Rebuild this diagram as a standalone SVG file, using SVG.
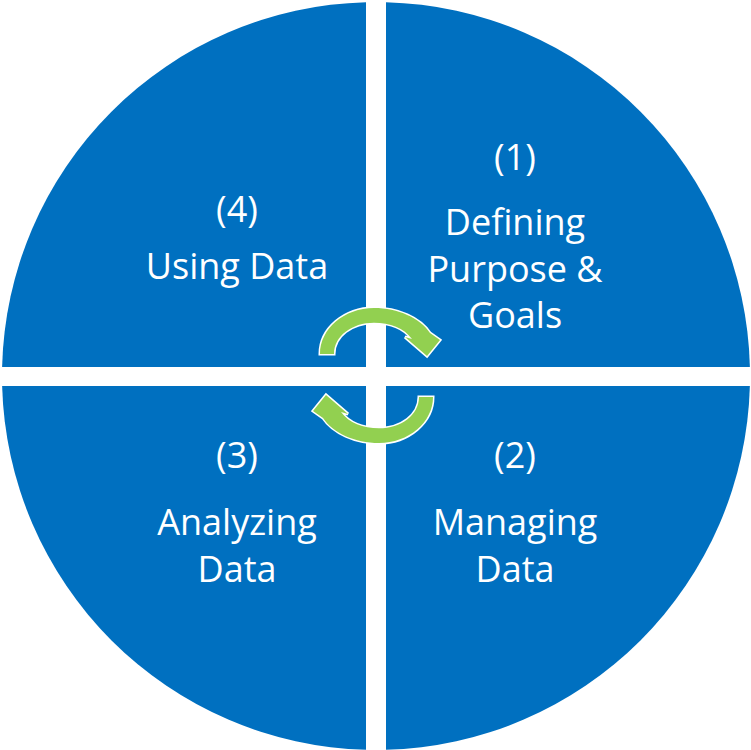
<svg xmlns="http://www.w3.org/2000/svg" width="751" height="750" viewBox="0 0 751 750">
  <style>
    .quad { fill: #0070C0; }
    .label { fill: #FFFFFF; font-family: "Open Sans", "Liberation Sans", sans-serif; font-size: 36px; text-anchor: middle; }
    .cycle { fill: #92D050; stroke: #FFFFFF; stroke-width: 3; stroke-linejoin: miter; paint-order: stroke; }
  </style>
  <defs>
    <!-- curved cycle arrow, bending over the top and pointing down on the right -->
    <path id="cycleArrow" d="M 320,354 C 320,328.7 344.3,308 374,308 C 398,308 420,318 430,333 L 440,340 L 427,356 L 405,337 L 412,339 C 404,328 390,322.7 374,322.7 C 352,322.7 334,336 334,354 Z"/>
  </defs>

  <rect width="751" height="750" fill="#FFFFFF"/>

  <g id="quadrant-1">
    <path class="quad" d="M 386,367 L 386,2.13 A 374,374 0 0 1 749.89,367 Z"/>
    <text class="label" x="515" y="170">(1)</text>
    <text class="label" x="515" y="235">Defining</text>
    <text class="label" x="515" y="282">Purpose &amp;</text>
    <text class="label" x="515" y="328">Goals</text>
  </g>

  <g id="quadrant-2">
    <path class="quad" d="M 386,386 L 749.87,386 A 374,374 0 0 1 386,749.87 Z"/>
    <text class="label" x="515" y="468">(2)</text>
    <text class="label" x="515" y="535">Managing</text>
    <text class="label" x="515" y="582">Data</text>
  </g>

  <g id="quadrant-3">
    <path class="quad" d="M 366,386 L 366,749.87 A 374,374 0 0 1 2.13,386 Z"/>
    <text class="label" x="237" y="468">(3)</text>
    <text class="label" x="237" y="535">Analyzing</text>
    <text class="label" x="237" y="582">Data</text>
  </g>

  <g id="quadrant-4">
    <path class="quad" d="M 366,367 L 2.11,367 A 374,374 0 0 1 366,2.13 Z"/>
    <text class="label" x="237" y="222">(4)</text>
    <text class="label" x="237" y="279">Using Data</text>
  </g>

  <g id="connectors">
    <use href="#cycleArrow" class="cycle"/>
    <use href="#cycleArrow" class="cycle" transform="rotate(180 376.5 375.5)"/>
  </g>
</svg>
